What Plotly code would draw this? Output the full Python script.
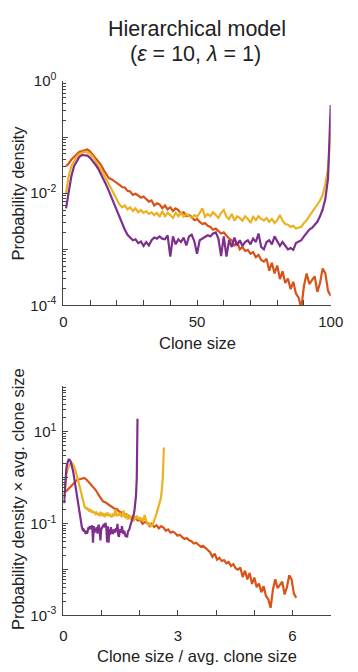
import plotly.graph_objects as go

# ---------------- data ----------------
clone_size = list(range(1, 101))

density_orange = [
    3.02e-2, 3.39e-2, 3.98e-2, 4.47e-2, 5.01e-2, 5.50e-2, 5.62e-2, 5.89e-2, 6.03e-2, 5.50e-2,
    4.79e-2, 4.27e-2, 3.63e-2, 3.24e-2, 2.63e-2, 2.19e-2, 1.86e-2, 1.78e-2, 1.66e-2, 1.51e-2,
    1.41e-2, 1.29e-2, 1.26e-2, 1.10e-2, 1.07e-2, 9.33e-3, 9.77e-3, 9.12e-3, 8.32e-3, 8.71e-3,
    7.76e-3, 7.08e-3, 7.41e-3, 6.03e-3, 6.61e-3, 6.31e-3, 5.37e-3, 6.03e-3, 5.13e-3, 5.62e-3,
    4.79e-3, 5.37e-3, 5.01e-3, 4.27e-3, 4.57e-3, 3.89e-3, 4.07e-3, 3.80e-3, 3.31e-3, 3.47e-3,
    3.09e-3, 2.82e-3, 2.95e-3, 2.63e-3, 2.51e-3, 2.24e-3, 2.34e-3, 2.09e-3, 1.91e-3, 2.00e-3,
    1.78e-3, 1.55e-3, 1.45e-3, 1.15e-3, 1.35e-3, 1.00e-3, 1.10e-3, 9.33e-4, 9.77e-4, 8.32e-4,
    8.91e-4, 7.24e-4, 7.94e-4, 6.46e-4, 6.03e-4, 6.76e-4, 4.17e-4, 5.75e-4, 3.72e-4, 5.13e-4,
    2.95e-4, 4.07e-4, 2.51e-4, 3.02e-4, 1.95e-4, 2.63e-4, 1.62e-4, 1.38e-4, 8.91e-5, 2.24e-4,
    3.72e-4, 2.40e-4, 2.82e-4, 3.31e-4, 1.74e-4, 2.51e-4, 4.57e-4, 3.72e-4, 1.82e-4, 1.48e-4,
]

density_yellow = [
    9.77e-3, 2.00e-2, 3.02e-2, 3.80e-2, 4.47e-2, 5.01e-2, 5.25e-2, 5.50e-2, 5.37e-2, 5.01e-2,
    4.47e-2, 3.80e-2, 3.24e-2, 2.63e-2, 2.19e-2, 1.78e-2, 1.45e-2, 1.15e-2, 9.12e-3, 7.41e-3,
    6.31e-3, 5.62e-3, 6.03e-3, 5.13e-3, 5.62e-3, 4.79e-3, 5.37e-3, 4.57e-3, 5.01e-3, 4.47e-3,
    4.79e-3, 4.27e-3, 4.57e-3, 4.07e-3, 4.47e-3, 3.80e-3, 4.79e-3, 3.89e-3, 4.47e-3, 4.07e-3,
    3.63e-3, 4.47e-3, 3.89e-3, 4.57e-3, 3.80e-3, 4.27e-3, 3.89e-3, 3.63e-3, 4.07e-3, 3.80e-3,
    4.47e-3, 5.37e-3, 3.80e-3, 4.27e-3, 3.89e-3, 4.57e-3, 4.07e-3, 3.63e-3, 4.47e-3, 5.01e-3,
    3.80e-3, 3.47e-3, 4.27e-3, 3.24e-3, 3.89e-3, 3.63e-3, 3.24e-3, 3.89e-3, 3.47e-3, 2.95e-3,
    3.80e-3, 3.31e-3, 3.89e-3, 3.47e-3, 3.24e-3, 3.63e-3, 3.09e-3, 3.47e-3, 2.95e-3, 3.31e-3,
    4.07e-3, 3.24e-3, 2.82e-3, 2.75e-3, 2.51e-3, 2.63e-3, 2.34e-3, 2.40e-3, 2.51e-3, 2.95e-3,
    3.31e-3, 3.89e-3, 4.57e-3, 5.37e-3, 6.03e-3, 7.41e-3, 9.33e-3, 1.45e-2, 2.75e-2, 1.20e-1,
]

density_purple = [
    5.37e-3, 1.10e-2, 2.00e-2, 3.02e-2, 3.80e-2, 4.47e-2, 4.79e-2, 4.79e-2, 4.68e-2, 4.27e-2,
    3.80e-2, 3.24e-2, 2.75e-2, 2.24e-2, 1.78e-2, 1.41e-2, 1.10e-2, 8.32e-3, 6.31e-3, 4.79e-3,
    3.63e-3, 2.82e-3, 2.24e-3, 1.82e-3, 1.62e-3, 1.45e-3, 1.51e-3, 1.29e-3, 1.38e-3, 1.15e-3,
    1.35e-3, 1.17e-3, 1.45e-3, 1.62e-3, 1.55e-3, 1.70e-3, 1.55e-3, 1.51e-3, 1.78e-3, 7.41e-4,
    1.70e-3, 1.23e-3, 1.51e-3, 1.35e-3, 1.62e-3, 1.17e-3, 1.70e-3, 1.82e-3, 1.38e-3, 8.32e-4,
    1.45e-3, 1.55e-3, 1.62e-3, 1.78e-3, 1.70e-3, 1.91e-3, 2.00e-3, 1.55e-3, 7.59e-4, 1.70e-3,
    7.41e-4, 1.45e-3, 1.10e-3, 1.62e-3, 1.17e-3, 1.45e-3, 1.15e-3, 1.35e-3, 1.45e-3, 1.23e-3,
    1.55e-3, 1.35e-3, 1.91e-3, 1.10e-3, 1.00e-3, 1.35e-3, 1.45e-3, 1.23e-3, 1.70e-3, 1.35e-3,
    1.15e-3, 1.35e-3, 1.17e-3, 1.00e-3, 1.05e-3, 9.77e-4, 1.29e-3, 1.38e-3, 1.45e-3, 1.70e-3,
    1.91e-3, 2.24e-3, 2.40e-3, 2.75e-3, 3.09e-3, 3.89e-3, 5.13e-3, 7.94e-3, 1.86e-2, 3.72e-1,
]

# average clone size of each series (used for the rescaled lower panel)
avg_size_orange = 16.4
avg_size_yellow = 38.0
avg_size_purple = 51.5

series_colors = ["#D95319", "#EDB120", "#7E2F8E"]

top_x_tickvals = [0, 10, 20, 30, 40, 50, 60, 70, 80, 90, 100]
top_x_ticktext = ["0", "", "", "", "", "50", "", "", "", "", "100"]
top_y_tickvals = [1e-4, 1e-3, 1e-2, 1e-1, 1e0]
top_y_ticktext = ["10<sup>-4</sup>", "", "10<sup>-2</sup>", "", "10<sup>0</sup>"]

bot_x_tickvals = [0, 1, 2, 3, 4, 5, 6, 7]
bot_x_ticktext = ["0", "", "", "3", "", "", "6", ""]
bot_y_tickvals = [1e-3, 1e-2, 1e-1, 1e0, 1e1, 1e2]
bot_y_ticktext = ["10<sup>-3</sup>", "", "10<sup>-1</sup>", "", "10<sup>1</sup>", ""]

minor_mult = [2, 3, 4, 5, 6, 7, 8, 9]
top_minor = [m * 10.0 ** e for e in range(-4, 0) for m in minor_mult]
bot_minor = [m * 10.0 ** e for e in range(-3, 2) for m in minor_mult]

# ---------------- figure ----------------
W, H = 358, 672
FONT = "Liberation Sans, Arial, sans-serif"
TXT = "#222222"
AX = "#444444"

fig = go.Figure()
series = [
    (density_orange, avg_size_orange, series_colors[0]),
    (density_yellow, avg_size_yellow, series_colors[1]),
    (density_purple, avg_size_purple, series_colors[2]),
]
for dens, avg, color in series:
    fig.add_trace(go.Scatter(
        x=clone_size, y=dens, mode="lines",
        line=dict(color=color, width=2.2), xaxis="x", yaxis="y",
        showlegend=False, hoverinfo="skip"))
for dens, avg, color in series:
    fig.add_trace(go.Scatter(
        x=[s / avg for s in clone_size], y=[d * avg for d in dens], mode="lines",
        line=dict(color=color, width=2.2), xaxis="x2", yaxis="y2",
        showlegend=False, hoverinfo="skip"))


def px_x(p):
    return p / W


def px_y(p):
    return 1 - p / H


axis_common = dict(
    showline=True, linecolor=AX, linewidth=1,
    ticks="inside", tickcolor=AX, ticklen=5, tickwidth=1,
    showgrid=False, zeroline=False,
    tickfont=dict(family=FONT, size=15, color=TXT),
)

x_dom = [px_x(62.3), px_x(343)]

fig.update_layout(
    width=W, height=H,
    margin=dict(l=0, r=0, t=0, b=0),
    paper_bgcolor="white", plot_bgcolor="white",
    font=dict(family=FONT, color=TXT),
    xaxis=dict(domain=x_dom, range=[0, 100], tickmode="array",
               tickvals=top_x_tickvals, ticktext=top_x_ticktext,
               anchor="y", ticklabelstandoff=3, **axis_common),
    yaxis=dict(domain=[px_y(303), px_y(72)], type="log", range=[-4, 0],
               tickmode="array", tickvals=top_y_tickvals, ticktext=top_y_ticktext,
               minor=dict(tickvals=top_minor, ticks="inside", ticklen=2.5,
                          tickcolor=AX, tickwidth=1),
               anchor="x", ticklabelstandoff=3, **axis_common),
    xaxis2=dict(domain=x_dom, range=[0, 7], tickmode="array",
                tickvals=bot_x_tickvals, ticktext=bot_x_ticktext,
                anchor="y2", ticklabelstandoff=7, **axis_common),
    yaxis2=dict(domain=[px_y(622), px_y(385.75)], type="log", range=[-3, 2],
                tickmode="array", tickvals=bot_y_tickvals, ticktext=bot_y_ticktext,
                minor=dict(tickvals=bot_minor, ticks="inside", ticklen=2.5,
                           tickcolor=AX, tickwidth=1),
                anchor="x2", ticklabelstandoff=3, **axis_common),
)

ann = [
    dict(text="Hierarchical model", x=px_x(203), y=px_y(19), size=21.5, angle=0),
    dict(text="(<i>ε</i> = 10, <i>λ</i> = 1)", x=px_x(201), y=px_y(44), size=21.5, angle=0),
    dict(text="Probability density", x=px_x(15), y=px_y(187.5), size=16.5, angle=-90),
    dict(text="Clone size", x=px_x(203), y=px_y(342), size=16.5, angle=0),
    dict(text="Probability density × avg. clone size", x=px_x(15), y=px_y(502), size=16.5, angle=-90),
    dict(text="Clone size / avg. clone size", x=px_x(203), y=px_y(664), size=16.5, angle=0),
]
for a in ann:
    fig.add_annotation(
        text=a["text"], x=a["x"], y=a["y"], xref="paper", yref="paper",
        xanchor="center", yanchor="middle", showarrow=False,
        textangle=a["angle"], font=dict(family=FONT, size=a["size"], color=TXT))

fig.write_html("out.html")
